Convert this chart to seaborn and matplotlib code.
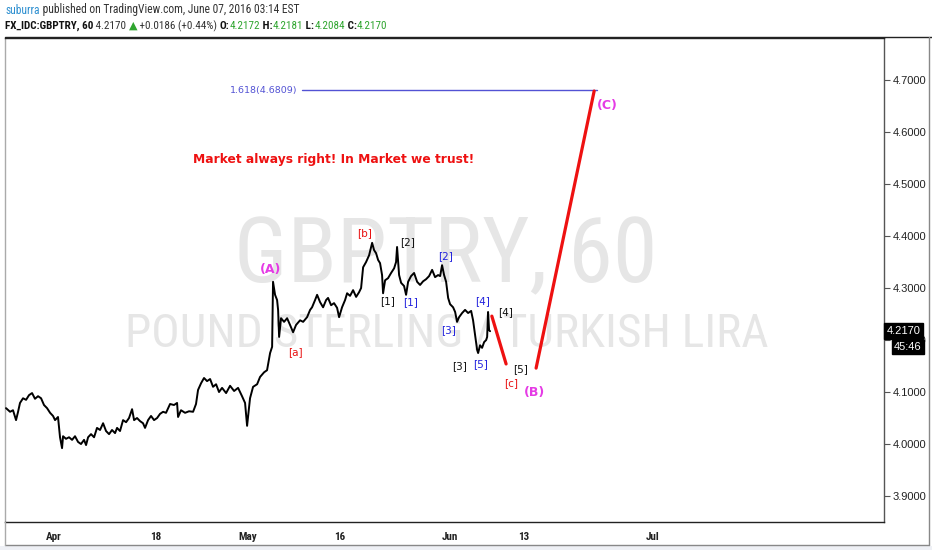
import matplotlib
matplotlib.use("Agg")
import numpy as np
import pandas as pd
import seaborn as sns
import matplotlib.pyplot as plt
import matplotlib.font_manager as fm
from matplotlib.lines import Line2D
from matplotlib.patches import Rectangle

sns.set_theme(style="white")
plt.rcParams['font.family'] = ['Liberation Sans', 'DejaVu Sans']

# x = trading-day index (0 = Apr 1)
t_day = [-5.22, -4.78, -4.46, -4.13, -3.91, -3.70, -3.37, -3.04, -2.72, -2.39,
         -2.07, -1.74, -1.41, -1.09, -0.76, -0.43, -0.11, 0.11, 0.43, 0.65,
         0.87, 0.98, 1.30, 1.63, 1.96, 2.28, 2.61, 2.93, 3.26, 3.48,
         3.70, 4.02, 4.35, 4.67, 5.00, 5.33, 5.65, 5.98, 6.30, 6.63,
         6.85, 7.17, 7.50, 7.83, 8.15, 8.48, 8.70, 9.02, 9.35, 9.67,
         9.89, 10.22, 10.54, 10.87, 11.20, 11.52, 11.85, 12.17, 12.61, 13.04,
         13.37, 13.48, 13.80, 14.24, 14.67, 15.11, 15.43, 15.65, 15.98, 16.30,
         16.63, 16.96, 17.28, 17.61, 17.93, 18.26, 18.70, 19.13, 19.57, 20.00,
         20.43, 20.76, 20.98, 21.30, 21.63, 22.07, 22.39, 22.83, 23.15, 23.48,
         23.70, 23.80, 24.02, 24.24, 24.35, 24.46, 24.67, 25.00, 25.33, 25.65,
         25.98, 26.30, 26.74, 27.07, 27.50, 27.83, 28.04, 28.37, 28.59, 28.91,
         29.24, 29.57, 29.78, 30.11, 30.43, 30.76, 30.98, 31.30, 31.63, 31.85,
         32.17, 32.50, 32.83, 33.15, 33.37, 33.59, 33.91, 34.24, 34.57, 34.78,
         35.00, 35.22, 35.43, 35.65, 35.76, 35.98, 36.30, 36.63, 36.96, 37.17,
         37.28, 37.50, 37.72, 38.04, 38.26, 38.48, 38.80, 39.13, 39.46, 39.78,
         40.11, 40.43, 40.76, 41.09, 41.41, 41.74, 41.96, 42.17, 42.39, 42.61,
         42.83, 43.04, 43.37, 43.59, 43.80, 44.02, 44.35, 44.67, 45.00, 45.33,
         45.54, 45.76, 45.98, 46.09, 46.30, 46.52, 46.74, 46.96, 47.07, 47.17,
         47.28, 47.39]
price = [4.069, 4.062, 4.065, 4.046, 4.062, 4.079, 4.088, 4.085, 4.094, 4.098,
         4.087, 4.092, 4.088, 4.075, 4.069, 4.060, 4.054, 4.046, 4.052, 4.013,
         3.992, 4.015, 4.010, 4.013, 4.008, 4.015, 4.004, 4.000, 4.008, 3.998,
         4.013, 4.019, 4.013, 4.031, 4.027, 4.040, 4.025, 4.019, 4.027, 4.021,
         4.031, 4.025, 4.046, 4.042, 4.050, 4.067, 4.046, 4.050, 4.044, 4.040,
         4.031, 4.046, 4.054, 4.046, 4.050, 4.058, 4.062, 4.060, 4.077, 4.075,
         4.079, 4.052, 4.065, 4.060, 4.063, 4.062, 4.077, 4.104, 4.117, 4.127,
         4.121, 4.125, 4.110, 4.115, 4.100, 4.108, 4.098, 4.112, 4.102, 4.108,
         4.092, 4.079, 4.035, 4.088, 4.110, 4.115, 4.129, 4.138, 4.142, 4.175,
         4.187, 4.312, 4.287, 4.277, 4.258, 4.206, 4.242, 4.235, 4.242, 4.229,
         4.215, 4.229, 4.238, 4.235, 4.244, 4.258, 4.263, 4.277, 4.287, 4.273,
         4.263, 4.277, 4.281, 4.267, 4.271, 4.262, 4.244, 4.263, 4.277, 4.290,
         4.285, 4.296, 4.283, 4.292, 4.300, 4.340, 4.350, 4.363, 4.387, 4.373,
         4.367, 4.354, 4.348, 4.325, 4.290, 4.315, 4.319, 4.329, 4.338, 4.350,
         4.379, 4.325, 4.310, 4.304, 4.287, 4.312, 4.323, 4.329, 4.312, 4.306,
         4.313, 4.317, 4.323, 4.335, 4.321, 4.325, 4.323, 4.344, 4.325, 4.312,
         4.281, 4.269, 4.263, 4.254, 4.235, 4.244, 4.252, 4.258, 4.252, 4.256,
         4.238, 4.210, 4.181, 4.175, 4.190, 4.185, 4.196, 4.200, 4.206, 4.254,
         4.219, 4.217]
assert len(t_day) == len(price)

x_tick_pos = [0, 11, 21, 31, 43, 51, 65]
x_tick_lab = ["Apr", "18", "May", "16", "Jun", "13", "Jul"]
y_ticks = [3.9, 4.0, 4.1, 4.2, 4.3, 4.4, 4.5, 4.6, 4.7]
last_price = 4.2170
countdown = "45:46"

# projected wave legs (trading day, price)
leg_c_t = [47.58, 49.13]
leg_c_p = [4.246, 4.154]
leg_C_t = [52.39, 58.70]
leg_C_p = [4.146, 4.679]

fib_level = 4.6809
fib_t = [26.9, 59.0]

# wave labels: text, trading day, price, kind
wave_text = ["(A)", "[a]", "[b]", "[2]", "[1]", "[1]", "[2]", "[3]", "[4]",
             "[3]", "[5]", "[4]", "[5]", "[c]", "(B)", "(C)"]
wave_t = [23.48, 26.20, 33.80, 38.37, 36.20, 38.80, 42.60, 42.93, 46.52,
          44.02, 46.30, 49.02, 50.65, 49.67, 52.17, 60.10]
wave_p = [4.3365, 4.177, 4.406, 4.388, 4.275, 4.273, 4.362, 4.219, 4.275,
          4.150, 4.154, 4.254, 4.144, 4.117, 4.100, 4.652]
wave_kind = ["big", "red", "red", "black", "black", "blue", "blue", "blue", "blue",
             "black", "blue", "black", "black", "red", "big", "big"]

# pick a narrow face if one is installed
installed = {f.name for f in fm.fontManager.ttflist}
cond_stretch = "normal"
narrow = ["Liberation Sans", "DejaVu Sans"]
for cand in ["Liberation Sans Narrow", "Roboto Condensed", "Open Sans Condensed",
             "DejaVu Sans Condensed", "Noto Sans Condensed"]:
    if cand in installed:
        narrow = [cand, "DejaVu Sans"]
        break
else:
    if any(f.name == "DejaVu Sans" and f.stretch == "condensed" for f in fm.fontManager.ttflist):
        narrow = ["DejaVu Sans"]
        cond_stretch = "condensed"

W, H = 932, 550
fig = plt.figure(figsize=(W / 100, H / 100), dpi=100)
fig.patch.set_facecolor("white")
ax = fig.add_axes([5 / W, 28 / H, 879 / W, 484 / H])
ax.set_facecolor("white")
renderer = fig.canvas.get_renderer()


def fit_width(txt, target_px):
    w = txt.get_window_extent(renderer).width
    txt.set_fontsize(txt.get_fontsize() * target_px / w)


# watermark
wm1 = ax.text(0.501, 0.496, "GBPTRY, 60", transform=ax.transAxes, ha="center",
              va="baseline", fontsize=64, color="#e6e6e6", family=narrow,
              fontstretch=cond_stretch, zorder=0)
wm2 = ax.text(0.503, 0.362, "POUND STERLING / TURKISH LIRA", transform=ax.transAxes,
              ha="center", va="baseline", fontsize=32, color="#e6e6e6", family=narrow,
              fontstretch=cond_stretch, zorder=0)
fit_width(wm1, 423)
fit_width(wm2, 645)

df = pd.DataFrame({"t": t_day, "price": price})
sns.lineplot(data=df, x="t", y="price", color="black", lw=1.4, sort=False,
             estimator=None, ax=ax, zorder=3)

sns.lineplot(x=leg_c_t, y=leg_c_p, color="#ee1111", lw=2.3, ax=ax, zorder=4)
sns.lineplot(x=leg_C_t, y=leg_C_p, color="#ee1111", lw=2.3, ax=ax, zorder=4)

ax.plot(fib_t, [fib_level, fib_level], color="#5252d4", lw=1.0, zorder=2)
ax.annotate("1.618(%.4f)" % fib_level, xy=(fib_t[0], fib_level), xytext=(-3, 0),
            textcoords="offset points", ha="right", va="center", fontsize=6.8,
            color="#5252d4", family=["DejaVu Sans"])

ax.text(30.38, 4.548, "Market always right! In Market we trust!", ha="center", va="center",
        fontsize=8.8, fontweight="bold", color="#ee1111", family=["DejaVu Sans"])

styles = {"big": ("#e53be5", 9, "bold"), "red": ("#e81010", 7.5, "normal"),
          "black": ("#111111", 7.5, "normal"), "blue": ("#2222dd", 7.5, "normal")}
for txt, t, p, k in zip(wave_text, wave_t, wave_p, wave_kind):
    c, s, w = styles[k]
    ax.text(t, p, txt, ha="center", va="center", color=c, fontsize=s, fontweight=w,
            family=["DejaVu Sans"], zorder=5)

ax.set_xlim(-5.33, 90.2)
ax.set_ylim(3.85, 4.781)
ax.set_xlabel("")
ax.set_ylabel("")
ax.set_xticks(x_tick_pos)
ax.set_xticklabels(x_tick_lab, fontsize=8, fontweight="bold", family=narrow,
                   fontstretch=cond_stretch, color="#222222")
ax.yaxis.tick_right()
ax.set_yticks(y_ticks)
ax.set_yticklabels(["%.4f" % v for v in y_ticks], fontsize=8, family=["Liberation Sans"],
                   color="#222222")
ax.tick_params(axis="both", direction="out", length=4, width=0.8, colors="#555555", pad=2)
ax.tick_params(axis="x", labelcolor="#222222", pad=3)
ax.tick_params(axis="y", labelcolor="#222222")
for side, col in [("left", "#aaaaaa"), ("bottom", "#222222"), ("top", "#222222"),
                  ("right", "#555555")]:
    ax.spines[side].set_visible(True)
    ax.spines[side].set_color(col)
    ax.spines[side].set_linewidth(1.0)

# last price and countdown boxes on the price scale
ax.annotate("%.4f" % last_price, xy=(1, last_price), xycoords=("axes fraction", "data"),
            xytext=(2, 0), textcoords="offset points", ha="left", va="center",
            fontsize=8, color="white", family=["Liberation Sans"],
            bbox=dict(boxstyle="square,pad=0.25", fc="black", ec="black"), zorder=6)
ax.annotate(countdown, xy=(1, last_price), xycoords=("axes fraction", "data"),
            xytext=(7, -11.5), textcoords="offset points", ha="left", va="center",
            fontsize=8, color="white", family=["Liberation Sans"],
            bbox=dict(boxstyle="square,pad=0.2", fc="black", ec="black"), zorder=6)

# frame around the whole widget
fig.add_artist(Line2D([5 / W, 1], [1 - 37 / H, 1 - 37 / H], color="#222222", lw=1.0))
fig.add_artist(Line2D([929 / W, 929 / W], [5 / H, 1 - 37 / H], color="#888888", lw=1.0))
fig.add_artist(Line2D([5 / W, 929 / W], [5 / H, 5 / H], color="#888888", lw=1.0))
fig.add_artist(Line2D([5 / W, 5 / W], [5 / H, 28 / H], color="#aaaaaa", lw=1.0))
fig.add_artist(Rectangle((0, 0), 1, 4.5 / H, transform=fig.transFigure, fc="#eef0f5",
                         ec="none"))


def write_row(x_px, y_px, pieces, size):
    x = x_px
    for txt, color, weight in pieces:
        a = fig.text(x / W, 1 - y_px / H, txt, color=color, fontweight=weight,
                     fontsize=size, ha="left", va="center", family=narrow,
                     fontstretch=cond_stretch)
        x += a.get_window_extent(renderer).width


green = "#2fa52f"
dark = "#333333"
write_row(5, 10, [("suburra", "#2d8fd0", "normal"),
                  (" published on TradingView.com, June 07, 2016 03:14 EST", dark, "normal")],
          8.3)
write_row(5, 26, [("FX_IDC:GBPTRY, 60", "#111111", "bold"),
                  (" 4.2170 ", dark, "normal"),
                  ("\u25b2", green, "normal"),
                  (" +0.0186 (+0.44%) ", dark, "normal"),
                  ("O:", "#111111", "bold"), ("4.2172", green, "normal"),
                  (" H:", "#111111", "bold"), ("4.2181", green, "normal"),
                  (" L:", "#111111", "bold"), ("4.2084", green, "normal"),
                  (" C:", "#111111", "bold"), ("4.2170", green, "normal")],
          8.0)

fig.savefig("out.png", dpi=100)
